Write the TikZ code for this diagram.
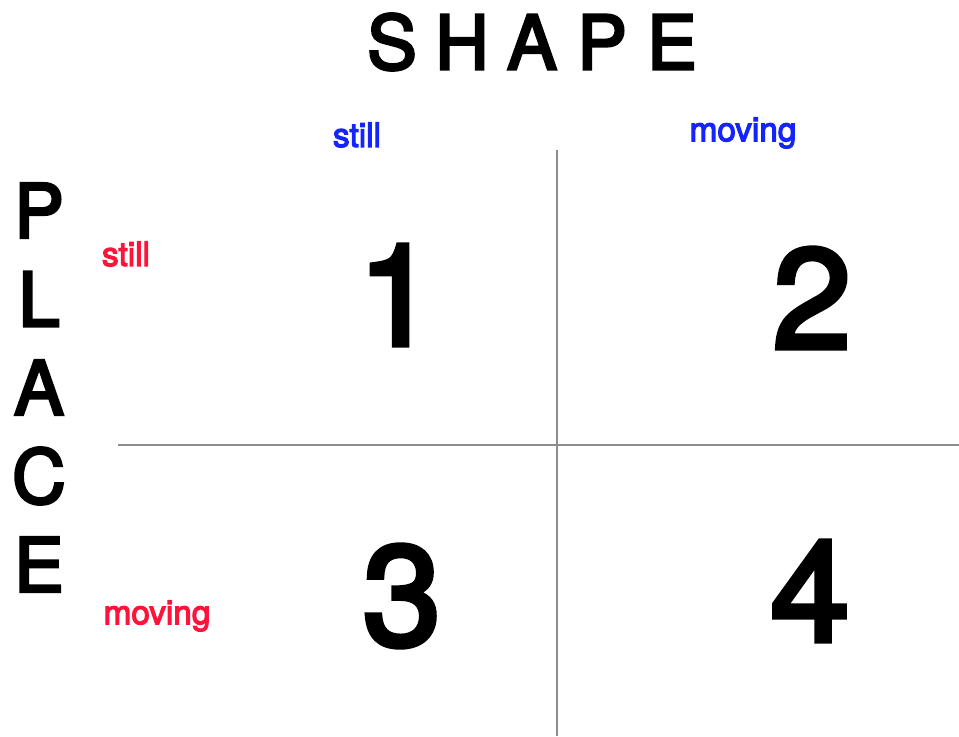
\documentclass[tikz,border=0pt]{standalone}
\usepackage{fontspec}
\setmainfont{TeX Gyre Heros}
\newfontfamily\medfont{TeX Gyre Heros}[RawFeature={embolden=3.6}]
\usepackage{tikz}
\usetikzlibrary{positioning}
\definecolor{axisBlue}{RGB}{22,36,252}
\definecolor{axisRed}{RGB}{252,20,58}
\definecolor{gridGray}{RGB}{140,140,140}
\colorlet{Ink}{black}

\begin{document}
\begin{tikzpicture}[x=0.75pt,y=-0.75pt,
    bigletter/.style={font=\fontsize{56}{60}\selectfont\medfont,text=Ink,inner sep=0pt},
    shapelabel/.style={font=\fontsize{25}{28}\selectfont\medfont,text=axisBlue,inner sep=0pt},
    placelabel/.style={font=\fontsize{25}{28}\selectfont\medfont,text=axisRed,inner sep=0pt},
    cellnum/.style={font=\fontsize{106}{110}\selectfont\medfont,text=Ink,inner sep=0pt},
    gridline/.style={gridGray,line width=1.1pt}]
  \useasboundingbox (0,0) rectangle (959,736);
  % title letters
  \foreach \l [count=\i] in {S,H,A,P,E}
    \node[bigletter] (shape\i) at (322+70*\i,42) {\l};
  \foreach \l [count=\i] in {P,L,A,C,E}
    \node[bigletter] (place\i) at (39,122+88.5*\i) {\l};
  % axis labels
  \node[shapelabel] (colStill) at (357,135) {still};
  \node[shapelabel] (colMoving) at (743,133) {moving};
  \node[placelabel] (rowStill) at (126,254) {still};
  \node[placelabel] (rowMoving) at (157,616) {moving};
  % grid
  \coordinate (vTop) at (557,150);
  \coordinate (vBot) at (557,736);
  \coordinate (hLeft) at (118,445);
  \coordinate (hRight) at (959,445);
  \draw[gridline] (vTop) -- (vBot);
  \draw[gridline] (hLeft) -- (hRight);
  % cells
  \node[cellnum] (cellA) at (397,295) {1};
  \node[cellnum] (cellB) at (812,298) {2};
  \node[cellnum] (cellC) at (402,596) {3};
  \node[cellnum] (cellD) at (810,591) {4};
\end{tikzpicture}
\end{document}
